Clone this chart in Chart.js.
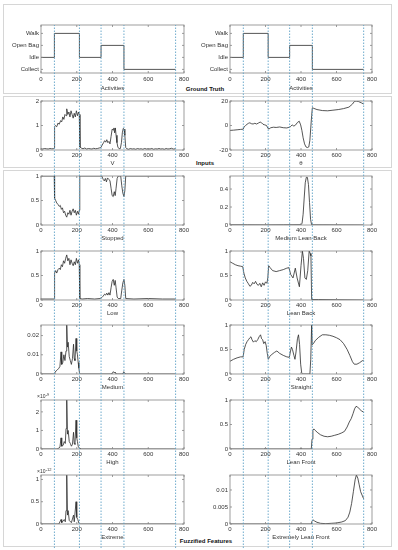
<!DOCTYPE html>
<html>
<head>
<meta charset="utf-8">
<script src="https://cdn.jsdelivr.net/npm/chart.js@4.4.1/dist/chart.umd.min.js"></script>
<style>
html, body { margin: 0; padding: 0; background: #fff; }
#page { position: relative; width: 398px; height: 550px; overflow: hidden; font-family: "Liberation Sans", Arial, sans-serif; }
.frame { position: absolute; border: 1px solid #d6d6d6; box-sizing: border-box; }
.sec { position: absolute; font-weight: bold; font-size: 6px; color: #111; transform: translate(-50%, -50%); white-space: nowrap; }
canvas { position: absolute; }
.overlay { pointer-events: none; }
</style>
</head>
<body>
<div id="page">
  <div class="frame" style="left:3px;top:4px;width:389px;height:90px"></div>
  <div class="frame" style="left:3px;top:96px;width:389px;height:72px"></div>
  <div class="frame" style="left:3px;top:170px;width:389px;height:377px"></div>
  <div class="sec" style="left:205px;top:89px">Ground Truth</div>
  <div class="sec" style="left:205px;top:163px">Inputs</div>
  <div class="sec" style="left:206px;top:541px">Fuzzified Features</div>
</div>
<script>
// ── Datos ─────────────────────────────────────────────────────
const xTicks     = [0, 200, 400, 600, 800];
const boundaries = [75, 215, 336, 464, 753];   // líneas punteadas entre actividades
const activities = ['Collect', 'Idle', 'Open Bag', 'Walk'];
const activityPts = [[0, 1], [75, 3], [215, 1], [336, 2], [464, 0], [753, 0]];

const vPts = [[0,0.05],[10,0.04],[20,0.06],[30,0.05],[40,0.04],[50,0.06],[60,0.05],[70,0.05],[74,0.08],
  [76,0.95],[80,1.0],[88,0.95],[95,1.1],[102,1.05],[110,1.2],[116,1.15],[122,1.35],[128,1.25],[134,1.45],
  [140,1.4],[144,1.68],[150,1.45],[156,1.55],[162,1.35],[168,1.6],[174,1.45],[180,1.3],[186,1.5],[192,1.35],
  [198,1.6],[204,1.4],[210,1.55],[214,1.45],[218,0.12],[225,0.08],[235,0.05],[245,0.08],[255,0.04],[265,0.06],
  [275,0.05],[285,0.04],[295,0.07],[305,0.05],[315,0.06],[325,0.08],[335,0.1],[342,0.2],[350,0.3],[356,0.38],
  [362,0.32],[368,0.42],[374,0.3],[380,0.35],[386,0.25],[392,0.55],[398,0.85],[403,0.82],[408,0.9],[412,0.7],
  [416,0.9],[420,0.6],[425,0.3],[430,0.12],[437,0.05],[444,0.06],[450,0.3],[455,0.7],[460,0.88],[465,0.85],
  [469,0.6],[474,0.1],[480,0.05],[490,0.03],[500,0.06],[510,0.04],[520,0.05],[530,0.03],[540,0.06],[550,0.04],
  [560,0.05],[570,0.03],[580,0.06],[590,0.04],[600,0.05],[610,0.04],[620,0.06],[630,0.03],[640,0.05],[650,0.04],
  [660,0.06],[670,0.04],[680,0.05],[690,0.03],[700,0.06],[710,0.04],[720,0.05],[730,0.07],[740,0.04],[753,0.05]];

const thetaPts = [[0,-4],[20,-3.8],[40,-3.5],[60,-3.2],[74,-3],[80,-1],[88,0],[96,1],[104,1.8],[112,2.2],
  [120,1.5],[130,1.2],[140,1.8],[150,1.2],[160,2],[170,2.8],[178,2.2],[186,1],[196,0.5],[206,0],[214,-2.5],
  [220,-2.8],[230,-1.8],[245,-1.4],[260,-1.6],[280,-1.2],[300,-1.8],[320,-2],[332,-1.5],[340,-1],[350,0.5],
  [360,-0.5],[370,0.5],[380,2.5],[390,3.5],[398,0.5],[405,-4],[412,-10],[420,-15],[428,-17.5],[436,-18],
  [444,-17.5],[450,-12],[455,-2],[460,8],[464,14.5],[472,14],[490,13],[520,12.2],[550,12],[580,12.5],
  [610,13],[640,13.8],[670,15],[690,17.5],[700,19.5],[710,20],[725,19.5],[740,18.5],[753,17.5]];

const stoppedPts = [[0,1],[74,1],[76,0.55],[82,0.5],[88,0.45],[95,0.42],[102,0.38],[108,0.4],[114,0.32],
  [120,0.35],[126,0.25],[132,0.28],[138,0.2],[144,0.16],[150,0.25],[156,0.22],[162,0.3],[168,0.2],[174,0.28],
  [180,0.33],[186,0.25],[192,0.3],[198,0.2],[204,0.28],[210,0.22],[214,0.3],[217,1],[340,1],[348,0.93],
  [354,0.9],[360,0.95],[366,0.88],[372,0.96],[380,0.93],[386,0.9],[392,0.75],[398,0.6],[404,0.58],[410,0.68],
  [415,0.6],[420,0.75],[426,0.95],[432,1],[446,1],[452,0.8],[458,0.65],[464,0.58],[469,0.7],[474,1],[753,1]];

const lowPts = [[0,0.02],[74,0.02],[76,0.55],[82,0.6],[88,0.55],[95,0.62],[102,0.65],[108,0.62],[114,0.72],
  [120,0.68],[126,0.8],[132,0.75],[138,0.85],[144,0.92],[150,0.8],[156,0.85],[162,0.72],[168,0.82],[174,0.75],
  [180,0.7],[186,0.78],[192,0.72],[198,0.85],[204,0.75],[210,0.82],[214,0.72],[217,0.03],[230,0.02],[260,0.03],
  [300,0.02],[330,0.03],[340,0.05],[348,0.08],[356,0.12],[362,0.1],[368,0.14],[374,0.1],[380,0.15],[386,0.1],
  [392,0.25],[398,0.38],[404,0.42],[410,0.3],[415,0.4],[420,0.25],[426,0.06],[432,0.03],[446,0.03],[452,0.2],
  [458,0.35],[464,0.42],[469,0.3],[474,0.03],[520,0.02],[600,0.03],[680,0.02],[753,0.02]];

const mediumPts = [[0,0],[74,0],[78,0.001],[90,0.002],[100,0.003],[106,0.004],[112,0.0115],[116,0.005],
  [122,0.006],[128,0.01],[134,0.007],[140,0.012],[144,0.0255],[148,0.014],[152,0.0165],[158,0.009],[164,0.007],
  [170,0.005],[176,0.008],[182,0.0155],[186,0.008],[190,0.007],[196,0.0185],[200,0.012],[204,0.01],[208,0.006],
  [212,0.003],[216,0],[395,0],[400,0.0008],[405,0.0012],[410,0.0005],[415,0.001],[420,0],[458,0],[463,0.0012],
  [468,0.0005],[472,0],[753,0]];

const highPts = [[0,0],[90,0],[100,0.05],[106,0.1],[112,0.6],[116,0.15],[124,0.2],[130,0.4],[136,0.3],
  [140,1.1],[144,2.7],[148,0.8],[152,1.0],[158,0.4],[164,0.3],[170,0.15],[176,0.25],[182,0.9],[186,0.3],
  [190,0.25],[196,1.55],[200,0.6],[204,0.4],[208,0.15],[214,0.05],[218,0],[753,0]];      // ×10^-9

const extremePts = [[0,0],[100,0],[112,0.1],[116,0.03],[130,0.1],[136,0.05],[140,0.3],[144,1.15],[148,0.2],
  [152,0.3],[158,0.08],[170,0.03],[182,0.2],[186,0.05],[196,0.5],[200,0.15],[206,0.1],[212,0.02],[218,0],
  [753,0]];                                                                               // ×10^-12

const medLeanBackPts = [[0,0.002],[100,0.002],[200,0.001],[300,0.002],[400,0.003],[406,0.02],[412,0.12],
  [418,0.3],[424,0.47],[430,0.53],[436,0.53],[442,0.45],[448,0.25],[454,0.06],[460,0.002],[753,0]];

const leanBackPts = [[0,0.78],[15,0.75],[30,0.72],[45,0.7],[60,0.69],[72,0.68],[78,0.55],[86,0.45],
  [95,0.38],[104,0.33],[112,0.28],[120,0.3],[128,0.36],[136,0.33],[144,0.38],[152,0.32],[160,0.3],[168,0.34],
  [176,0.27],[184,0.35],[192,0.3],[200,0.37],[208,0.34],[213,0.45],[218,0.7],[226,0.66],[240,0.6],[260,0.58],
  [280,0.6],[300,0.62],[320,0.65],[332,0.66],[342,0.52],[355,0.45],[368,0.65],[378,0.45],[391,0.27],
  [400,0.7],[408,1.0],[414,0.85],[422,0.45],[430,0.42],[438,0.6],[446,1.0],[452,0.95],[456,0.9],[460,0.01],
  [500,0.01],[600,0.005],[753,0]];

const straightPts = [[0,0.26],[20,0.3],[40,0.33],[60,0.35],[74,0.35],[80,0.5],[88,0.6],[96,0.66],[104,0.7],
  [112,0.74],[118,0.76],[124,0.7],[132,0.65],[140,0.68],[148,0.66],[156,0.7],[164,0.76],[172,0.8],[178,0.72],
  [184,0.7],[190,0.62],[198,0.66],[204,0.58],[210,0.42],[216,0.3],[224,0.36],[236,0.4],[250,0.44],[264,0.47],
  [280,0.42],[300,0.38],[320,0.35],[334,0.34],[340,0.45],[346,0.55],[352,0.5],[360,0.38],[366,0.3],[372,0.45],
  [380,0.72],[386,0.8],[392,0.6],[398,0.2],[404,0.02],[410,0],[450,0],[455,0.3],[460,1.0],[463,0.6],[470,0.62],
  [480,0.68],[500,0.75],[520,0.8],[540,0.8],[560,0.79],[580,0.77],[600,0.74],[620,0.7],[640,0.62],[660,0.5],
  [675,0.38],[690,0.25],[700,0.2],[715,0.2],[730,0.23],[745,0.27],[753,0.28]];

const leanFrontPts = [[0,0],[190,0],[200,0.01],[210,0],[390,0],[400,0.01],[410,0],[458,0],[462,0.2],
  [467,0.38],[472,0.41],[480,0.38],[495,0.33],[510,0.29],[530,0.26],[550,0.25],[570,0.26],[590,0.28],
  [610,0.3],[630,0.33],[645,0.36],[660,0.45],[672,0.55],[683,0.62],[693,0.72],[702,0.82],[710,0.87],
  [718,0.86],[728,0.82],[740,0.78],[753,0.75]];

const extLeanFrontPts = [[0,0],[458,0],[462,0.0008],[468,0.0012],[476,0.0009],[490,0.0005],[510,0.0002],
  [540,0.0001],[570,0.0002],[600,0.0003],[630,0.0006],[650,0.001],[665,0.002],[675,0.0035],[685,0.006],
  [695,0.0095],[705,0.013],[712,0.0144],[720,0.0135],[728,0.0115],[736,0.0095],[744,0.0085],[753,0.0074]];

// ── Geometría de la figura ────────────────────────────────────
const page = document.getElementById('page');
const COL_W = 199;
const COLS = [
  { left: 0,   plotLeft: 41,  plotRight: 184 },
  { left: 199, plotLeft: 230, plotRight: 372 },
];
const ROWS = [
  { top: 25,  bottom: 73 },
  { top: 101, bottom: 150 },
  { top: 176, bottom: 225 },
  { top: 251, bottom: 300 },
  { top: 325, bottom: 374 },
  { top: 400, bottom: 449 },
  { top: 475, bottom: 524 },
];

Chart.defaults.font.family = '"Liberation Sans", Arial, sans-serif';
Chart.defaults.font.size = 6;
Chart.defaults.color = '#333';

// Caja estilo MATLAB con marcas hacia dentro y multiplicador opcional
const cajaMatlab = {
  id: 'cajaMatlab',
  afterDatasetsDraw(chart, args, opts) {
    const { ctx, chartArea: a, scales: { x, y } } = chart;
    ctx.save();
    ctx.strokeStyle = '#858585';
    ctx.lineWidth = 0.8;
    ctx.strokeRect(a.left, a.top, a.right - a.left, a.bottom - a.top);
    ctx.beginPath();
    x.ticks.forEach(t => {
      const px = x.getPixelForValue(t.value);
      ctx.moveTo(px, a.bottom); ctx.lineTo(px, a.bottom - 2);
      ctx.moveTo(px, a.top);    ctx.lineTo(px, a.top + 2);
    });
    y.ticks.forEach(t => {
      const py = y.getPixelForValue(t.value);
      ctx.moveTo(a.left, py);  ctx.lineTo(a.left + 2, py);
      ctx.moveTo(a.right, py); ctx.lineTo(a.right - 2, py);
    });
    ctx.stroke();
    if (opts && opts.exponente) {
      ctx.fillStyle = '#333';
      ctx.textBaseline = 'alphabetic';
      ctx.font = '5px "Liberation Sans", Arial, sans-serif';
      const x0 = a.left - 4;
      ctx.fillText('\u00d710', x0, a.top - 2);
      const w = ctx.measureText('\u00d710').width;
      ctx.font = '4px "Liberation Sans", Arial, sans-serif';
      ctx.fillText(opts.exponente, x0 + w + 0.3, a.top - 4.5);
    }
    ctx.restore();
  },
};

function crearPanel(p) {
  const col = COLS[p.col], row = ROWS[p.row];
  const padTop = 12, axisH = 20;
  const cv = document.createElement('canvas');
  cv.width = COL_W;
  cv.height = row.bottom - row.top + padTop + axisH;
  cv.style.left = col.left + 'px';
  cv.style.top = (row.top - padTop) + 'px';
  page.appendChild(cv);

  new Chart(cv, {
    type: 'line',
    data: {
      datasets: [{
        data: p.pts.map(([x, y]) => ({ x, y })),
        borderColor: '#2b2b2b',
        borderWidth: 0.8,
        pointRadius: 0,
        tension: 0,
        stepped: p.stepped ? 'before' : false,
      }],
    },
    options: {
      responsive: false,
      animation: false,
      devicePixelRatio: 1,
      layout: { padding: { top: padTop, left: 0, right: col.left + COL_W - col.plotRight, bottom: 0 } },
      plugins: {
        legend: { display: false },
        tooltip: { enabled: false },
        cajaMatlab: { exponente: p.exponente || null },
      },
      scales: {
        x: {
          type: 'linear', min: 0, max: 800,
          grid: { display: false, drawTicks: false }, border: { display: false },
          afterBuildTicks: s => { s.ticks = xTicks.map(v => ({ value: v })); },
          ticks: { padding: p.tickPad ?? 2, maxRotation: 0, autoSkip: false, color: '#333' },
          title: { display: true, text: p.titulo, color: '#333', padding: { top: 0, bottom: p.titlePad ?? 3.4 } },
          afterFit: s => { s.height = axisH; },
        },
        y: {
          type: 'linear', min: p.yMin, max: p.yMax,
          grid: { display: false, drawTicks: false }, border: { display: false },
          afterBuildTicks: s => { s.ticks = p.yTicks.map(v => ({ value: v })); },
          ticks: {
            padding: 2, autoSkip: false, color: '#333',
            callback: (v, i) => p.yLabels ? p.yLabels[i] : String(p.yTicks[i]),
          },
          afterFit: s => { s.width = col.plotLeft - col.left; },
        },
      },
    },
    plugins: [cajaMatlab],
  });
}

// Líneas punteadas verticales que cruzan toda la columna
function crearGuias(col) {
  const cv = document.createElement('canvas');
  cv.width = COL_W;
  cv.height = 548 - 25;
  cv.className = 'overlay';
  cv.style.left = col.left + 'px';
  cv.style.top = '25px';
  page.appendChild(cv);
  new Chart(cv, {
    type: 'line',
    data: {
      datasets: boundaries.map(b => ({
        data: [{ x: b, y: 0 }, { x: b, y: 1 }],
        borderColor: '#5fa2c6',
        borderWidth: 0.9,
        borderDash: [1.5, 1.5],
        pointRadius: 0,
      })),
    },
    options: {
      responsive: false,
      animation: false,
      devicePixelRatio: 1,
      layout: { padding: { left: col.plotLeft - col.left, right: col.left + COL_W - col.plotRight, top: 0, bottom: 0 } },
      plugins: { legend: { display: false }, tooltip: { enabled: false } },
      scales: {
        x: { type: 'linear', min: 0, max: 800, display: false },
        y: { type: 'linear', min: 0, max: 1, display: false },
      },
    },
  });
}

// ── Paneles ───────────────────────────────────────────────────
const PANELES = [
  { col: 0, row: 0, pts: activityPts, titulo: 'Activities', yMin: -0.3, yMax: 3.7, yTicks: [0, 1, 2, 3], yLabels: activities, stepped: true, tickPad: 3, titlePad: 1 },
  { col: 1, row: 0, pts: activityPts, titulo: 'Activities', yMin: -0.3, yMax: 3.7, yTicks: [0, 1, 2, 3], yLabels: activities, stepped: true, tickPad: 3, titlePad: 1 },
  { col: 0, row: 1, pts: vPts,        titulo: 'V', yMin: 0, yMax: 2,  yTicks: [0, 1, 2] },
  { col: 1, row: 1, pts: thetaPts,    titulo: '\u03b8', yMin: -20, yMax: 20, yTicks: [-20, 0, 20] },
  { col: 0, row: 2, pts: stoppedPts,  titulo: 'Stopped', yMin: 0, yMax: 1, yTicks: [0, 0.5, 1] },
  { col: 1, row: 2, pts: medLeanBackPts, titulo: 'Medium Lean Back', yMin: 0, yMax: 0.545, yTicks: [0, 0.2, 0.4] },
  { col: 0, row: 3, pts: lowPts,      titulo: 'Low', yMin: 0, yMax: 1, yTicks: [0, 0.5, 1] },
  { col: 1, row: 3, pts: leanBackPts, titulo: 'Lean Back', yMin: 0, yMax: 1, yTicks: [0, 0.5, 1] },
  { col: 0, row: 4, pts: mediumPts,   titulo: 'Medium', yMin: 0, yMax: 0.0255, yTicks: [0, 0.01, 0.02] },
  { col: 1, row: 4, pts: straightPts, titulo: 'Straight', yMin: 0, yMax: 1, yTicks: [0, 0.5, 1] },
  { col: 0, row: 5, pts: highPts,     titulo: 'High', yMin: 0, yMax: 2.64, yTicks: [0, 1, 2], exponente: '-9' },
  { col: 1, row: 5, pts: leanFrontPts, titulo: 'Lean Front', yMin: 0, yMax: 1, yTicks: [0, 0.5, 1] },
  { col: 0, row: 6, pts: extremePts,  titulo: 'Extreme', yMin: 0, yMax: 1.1, yTicks: [0, 0.5, 1], exponente: '-12' },
  { col: 1, row: 6, pts: extLeanFrontPts, titulo: 'Extremely Lean Front', yMin: 0, yMax: 0.0144, yTicks: [0, 0.005, 0.01] },
];

PANELES.forEach(crearPanel);
COLS.forEach(crearGuias);
</script>
</body>
</html>
